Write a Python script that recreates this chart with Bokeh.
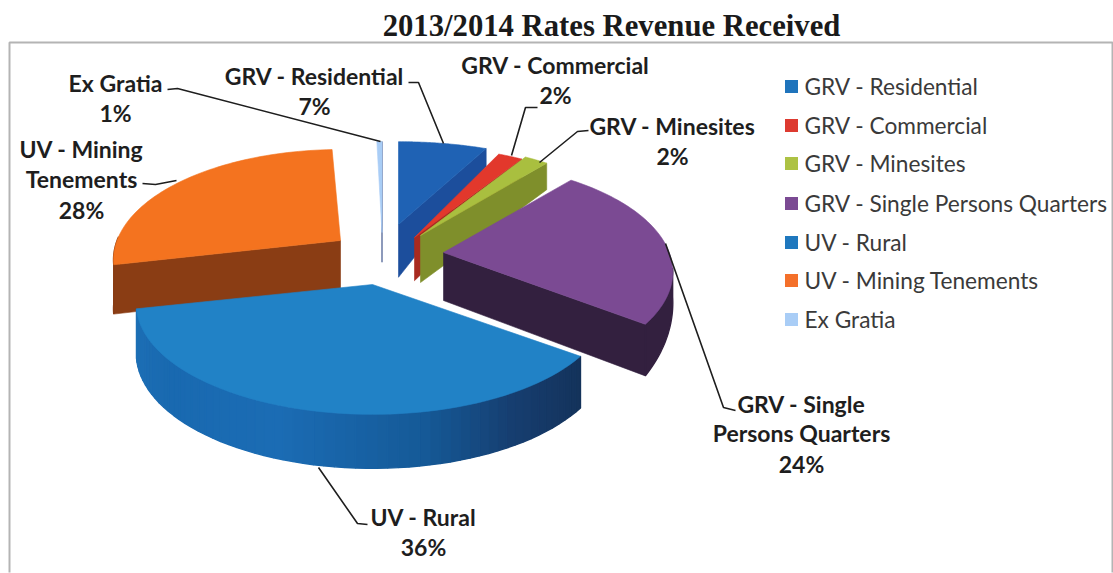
import numpy as np
from bokeh.plotting import figure
from bokeh.models import Range1d, ColumnDataSource
from bokeh.core.properties import value
from bokeh.embed import file_html
from bokeh.resources import INLINE

# ---- data -------------------------------------------------------------
categories = ["GRV - Residential", "GRV - Commercial", "GRV - Minesites",
              "GRV - Single Persons Quarters", "UV - Rural",
              "UV - Mining Tenements", "Ex Gratia"]
shares = [7.0, 2.0, 2.0, 24.0, 36.0, 27.6, 0.7]   # labels round them
label_lines = [["GRV - Residential"], ["GRV - Commercial"], ["GRV - Minesites"],
               ["GRV - Single", "Persons Quarters"], ["UV - Rural"],
               ["UV - Mining", "Tenements"], ["Ex Gratia"]]
title_text = "2013/2014 Rates Revenue Received"

# ---- styles -----------------------------------------------------------
top_colors = ["#1F62B4", "#E2382C", "#A9BF3F", "#7B4A93", "#2182C6", "#F4731F", "#A9CDF6"]
side_colors = ["#1C4E9C", "#A82A20", "#7F8F2B", "#33203F", "#1B6CB4", "#8A3D14", "#1E3A78"]
legend_colors = ["#1F74BC", "#DD3A30", "#ADC244", "#7B4A93", "#1F78BE", "#F4702A", "#A9CDF6"]

# ---- layout (page pixels) ---------------------------------------------
START = -90.0               # where the first slice begins, degrees
AX, BY, K = 228.0, 107.0, 0.176     # ellipse radii and perspective of the disc
# slice index -> apex x, apex y, x scale, y scale, depth scale
slice_layout = {
    0: (398, 224, 1.04, 0.91, 1.10),
    1: (414, 237, 1.00, 1.00, 0.90),
    2: (420, 235, 0.98, 1.00, 0.98),
    3: (443, 252, 0.99, 1.00, 1.00),
    4: (372, 284, 1.02, 1.00, 1.00),
    5: (340, 240, 0.98, 1.00, 1.00),
    6: (381.5, 232, 0.60, 1.00, 0.62),
}
# slice index -> visible part of the outer rim in degrees (None = slice edge)
wall_range = {3: (8, None), 4: (None, None), 5: (None, 182)}
wall_taper = {3: 0.6}   # rim depth at the start of the wall, as a share of full depth
# which radial cut is seen: "end", "start" or None
cut_seen = {0: "end", 1: "end", 2: "end", 3: "end", 4: None, 5: "start", 6: "end"}
# drawing order, back to front
draw_order = [6, 0, 1, 2, 5, 3, 4]
rim_stops = [37, 60, 80, 110, 140, 170]
rim_rgb = [(20, 50, 90), (22, 62, 112), (21, 90, 152), (27, 108, 180), (25, 105, 176), (30, 112, 182)]

# slice index -> centre x, then y of every text line (name lines, then percentage)
label_layout = {
    6: (115, [82, 112]),
    0: (314, [75, 105]),
    1: (555, [64, 94]),
    2: (672, [125, 155]),
    5: (81, [148, 178, 209]),
    3: (801, [403, 432, 463]),
    4: (423, [516, 546]),
}
leaders = [
    ([167, 177, 380], [89, 88, 141]),
    ([408, 418, 443], [82, 82, 143]),
    ([537, 525, 511], [107, 107, 155]),
    ([588, 577, 539], [130, 131, 162]),
    ([665, 723, 735], [243, 407, 410]),
    ([318, 357, 367], [467, 523, 524]),
    ([142, 155, 176], [183, 184, 180]),
]
legend_x_mark, legend_x_text = 791, 804
legend_y = [86, 125, 163, 203, 242, 280, 319]


def disc(t_deg):
    t = np.radians(np.asarray(t_deg, dtype=float))
    den = 1 - K * np.sin(t)
    return AX * np.cos(t) / den, BY * np.sin(t) / den


def depth(t_deg):
    y = np.sin(np.radians(np.asarray(t_deg, dtype=float)))
    return np.interp(y, [-1, -0.89, -0.77, 0, 1], [10, 17, 27, 48, 54])


def rgb_hex(c):
    return "#%02x%02x%02x" % tuple(int(round(v)) for v in c)


W, H = 1113, 573
p = figure(width=W, height=H, output_backend="svg", toolbar_location=None,
           x_range=Range1d(0, W), y_range=Range1d(H, 0), min_border=0,
           background_fill_color="white", border_fill_color="white", outline_line_color=None)
p.axis.visible = False
p.grid.visible = False

# frame
p.line([9, 9, 1112, 1112], [572, 42, 42, 572], line_color="#B4B4B4", line_width=2)

# angle spans from the shares
total = sum(shares)
edges = START + np.concatenate([[0], np.cumsum(shares)]) * 360.0 / total

for i in draw_order:
    a0, a1 = edges[i], edges[i + 1]
    ax, ay, fx, fy, fd = slice_layout[i]

    def pt(t):
        dx, dy = disc(t)
        return ax + fx * dx, ay + fy * dy

    # outer rim
    if i in wall_range:
        lo, hi = wall_range[i]
        lo = a0 if lo is None else lo
        hi = a1 if hi is None else hi
        n = 60 if i == 4 else 1
        ts = np.linspace(lo, hi, n + 1)
        xs_, ys_, cols = [], [], []
        for t0, t1 in zip(ts[:-1], ts[1:]):
            tt = np.linspace(t0, t1, 40 if i != 4 else 2)
            x, y = pt(tt)
            d = fd * depth(tt)
            if i in wall_taper:
                d = d * np.interp(tt, [lo, hi], [wall_taper[i], 1.0])
            xs_.append(list(np.concatenate([x, x[::-1]])))
            ys_.append(list(np.concatenate([y, (y + d)[::-1]])))
            if i == 4:
                m = (t0 + t1) / 2
                cols.append(rgb_hex([np.interp(m, rim_stops, [c[k] for c in rim_rgb]) for k in range(3)]))
            else:
                cols.append(side_colors[i])
        src = ColumnDataSource(dict(xs=xs_, ys=ys_, c=cols))
        p.patches("xs", "ys", source=src, fill_color="c", line_color="c", line_width=1.4)

    # radial cut
    seen = cut_seen[i]
    if seen:
        t = a1 if seen == "end" else a0
        x1, y1 = pt(t)
        d_out = fd * depth(t)
        d_in = fd * 48
        p.patch([ax, x1, x1, ax], [ay, y1, y1 + d_out, ay + d_in],
                fill_color=side_colors[i], line_color=side_colors[i], line_width=0.6)

    # top face
    ts = np.linspace(a0, a1, 60)
    xt, yt = pt(ts)
    p.patch(np.concatenate([[ax], xt]), np.concatenate([[ay], yt]),
            fill_color=top_colors[i], line_color=top_colors[i], line_width=0.6)

# leader lines
for xs_, ys_ in leaders:
    p.line(xs_, ys_, line_color="#1E1E1E", line_width=1.6)

# data labels: name lines plus the rounded percentage
lab_t, lab_x, lab_y = [], [], []
for i, (cx, rows) in label_layout.items():
    lines = label_lines[i] + ["%d%%" % round(100 * shares[i] / total)]
    for line, row_y in zip(lines, rows):
        lab_t.append(line)
        lab_x.append(cx)
        lab_y.append(row_y)
lab = ColumnDataSource(dict(t=lab_t, x=lab_x, y=lab_y))
p.text("x", "y", text="t", source=lab, text_font=value("Lato"), text_font_style="bold",
       text_font_size="23px", text_color="#1E1E1E", text_align="center", text_baseline="middle")

# legend
p.scatter([legend_x_mark] * len(categories), legend_y, marker="square", size=13,
          fill_color=legend_colors, line_color=None)
leg = ColumnDataSource(dict(t=categories, x=[legend_x_text] * len(categories), y=legend_y))
p.text("x", "y", text="t", source=leg, text_font=value("Lato"),
       text_font_size="22.7px", text_color="#3A3A3A", text_align="left", text_baseline="middle")

# title
p.text([611], [25], text=[title_text], text_font=value("Liberation Serif"), text_font_style="bold",
       text_font_size="30.7px", text_color="#1A1A1A", text_align="center", text_baseline="middle")

open("out.html", "w").write(file_html(p, INLINE))
